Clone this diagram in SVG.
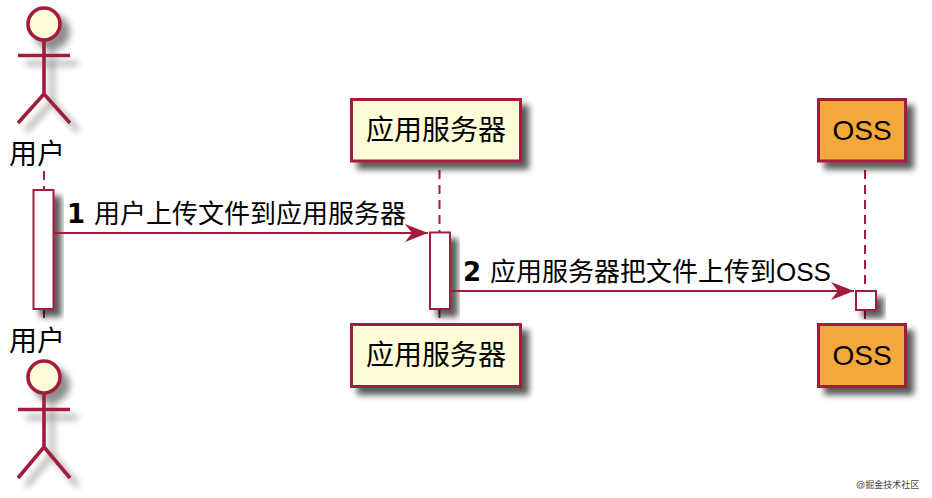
<svg xmlns="http://www.w3.org/2000/svg" width="932" height="498" viewBox="0 0 932 498">
<defs>
<filter id="sh" x="-30%" y="-30%" width="180%" height="180%"><feGaussianBlur in="SourceAlpha" stdDeviation="3"/><feOffset dx="7" dy="7"/><feComponentTransfer><feFuncA type="linear" slope="0.65"/></feComponentTransfer><feMerge><feMergeNode/><feMergeNode in="SourceGraphic"/></feMerge></filter>
<filter id="shA" x="-40%" y="-20%" width="200%" height="150%"><feGaussianBlur in="SourceAlpha" stdDeviation="3.500"/><feOffset dx="8" dy="8"/><feComponentTransfer><feFuncA type="linear" slope="0.45"/></feComponentTransfer><feMerge><feMergeNode/><feMergeNode in="SourceGraphic"/></feMerge></filter>
<marker id="arrow" markerUnits="userSpaceOnUse" markerWidth="24" markerHeight="20" refX="23" refY="9" orient="auto"><path d="M0 0 L23 9 L0 18 L7 9 Z" fill="#A11D3C"/></marker>
</defs>
<style>
text{font-family:"Liberation Sans","Noto Sans CJK SC",sans-serif;fill:#000}
.t{font-size:28px}
.m{font-size:26px}
.b{font-family:"DejaVu Sans",sans-serif;font-weight:700;font-size:26px}
.box{stroke:#A11D3C;stroke-width:3}
.yel{fill:#FEFDD8}
.org{fill:#F4A83A}
.act{fill:#fff;stroke:#A11D3C;stroke-width:2}
.ll{stroke:#A11D3C;stroke-width:2;stroke-dasharray:9 6;fill:none}
.msg{stroke:#A11D3C;stroke-width:2;fill:none;marker-end:url(#arrow)}
.stick{fill:none;stroke:#A11D3C;stroke-width:3.600}
.head{fill:#FEFDD8;stroke:#A11D3C;stroke-width:3.600}
</style>
<g id="connectors">
<path class="ll" d="M44 171V190"/>
<path class="ll" d="M44 309V320"/>
<path class="ll" d="M439.500 170V232"/>
<path class="ll" d="M439.500 309V320"/>
<path class="ll" d="M865 170V291"/>
<path class="ll" d="M865 310V320"/>
</g>
<g id="activation-user"><rect class="act" filter="url(#sh)" x="33.500" y="190" width="20" height="119"/></g>
<g id="activation-server"><rect class="act" filter="url(#sh)" x="430" y="232.500" width="20" height="76.500"/></g>
<g id="activation-oss"><rect class="act" filter="url(#sh)" x="856" y="291" width="20" height="19"/></g>
<g id="messages">
<path class="msg" d="M54 233H428"/>
<text class="m" x="67" y="223"><tspan class="b">1 </tspan><tspan x="94">用户上传文件到应用服务器</tspan></text>
<path class="msg" d="M450 291H854"/>
<text class="m" x="463" y="281"><tspan class="b">2 </tspan><tspan x="490">应用服务器把文件上传到OSS</tspan></text>
</g>
<g id="actor-user-top">
<g filter="url(#shA)"><circle class="head" cx="44" cy="24" r="16"/><path class="stick" d="M44 40V94M18 55.500H70M44 94L18 123M44 94L70 123"/></g>
<text class="t" x="9" y="164">用户</text>
</g>
<g id="actor-user-bottom">
<text class="t" x="9" y="351">用户</text>
<g filter="url(#shA)"><circle class="head" cx="44" cy="377" r="16"/><path class="stick" d="M44 393V447M18 409.500H70M44 447L18 478M44 447L70 478"/></g>
</g>
<g id="server-top"><rect class="box yel" filter="url(#sh)" x="351.500" y="99.500" width="169" height="61.500"/><text class="t" x="436" y="140" text-anchor="middle">应用服务器</text></g>
<g id="server-bottom"><rect class="box yel" filter="url(#sh)" x="351.500" y="324.500" width="169" height="62"/><text class="t" x="436" y="365" text-anchor="middle">应用服务器</text></g>
<g id="oss-top"><rect class="box org" filter="url(#sh)" x="818.500" y="99.500" width="87" height="61.500"/><text class="t" x="862" y="140" text-anchor="middle">OSS</text></g>
<g id="oss-bottom"><rect class="box org" filter="url(#sh)" x="818.500" y="324.500" width="87" height="62"/><text class="t" x="862" y="365" text-anchor="middle">OSS</text></g>
<text x="856" y="488" font-size="9" style="fill:#444">@掘金技术社区</text>
</svg>
